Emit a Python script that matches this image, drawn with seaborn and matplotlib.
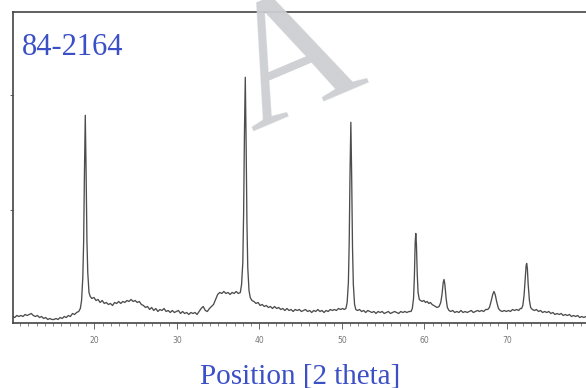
import matplotlib
matplotlib.use("Agg")
import matplotlib.pyplot as plt
from matplotlib.ticker import MultipleLocator, FixedLocator
import seaborn as sns
import pandas as pd

# Diffraction scan: 2-theta angle (degrees) and detector counts (arbitrary units)
two_theta = [
    10.1, 10.35, 10.6, 10.85, 11.1, 11.35, 11.6, 11.85, 12.1, 12.35, 12.6, 12.85,
    13.1, 13.35, 13.6, 13.85, 14.1, 14.35, 14.6, 14.85, 15.1, 15.35, 15.6, 15.85,
    16.1, 16.35, 16.6, 16.85, 17.1, 17.35, 17.6, 17.85, 18.1,
    18.3, 18.45, 18.6, 18.7, 18.8, 18.9, 19.0, 19.1, 19.2, 19.35, 19.5,
    19.7, 19.95, 20.2, 20.45, 20.7, 20.95, 21.2, 21.45, 21.7, 21.95, 22.2, 22.45,
    22.7, 22.95, 23.2, 23.45, 23.7, 23.95, 24.2, 24.45, 24.7, 24.95, 25.2, 25.45,
    25.7, 25.95, 26.2, 26.45, 26.7, 26.95, 27.2, 27.45, 27.7, 27.95, 28.2, 28.45,
    28.7, 28.95, 29.2, 29.45, 29.7, 29.95, 30.2, 30.45, 30.7, 30.95, 31.2, 31.45,
    31.7, 31.95, 32.2, 32.45, 32.7, 32.95, 33.2, 33.45, 33.7, 33.95, 34.2, 34.45,
    34.7, 34.95, 35.2, 35.45, 35.7, 35.95, 36.2, 36.45, 36.7, 36.95, 37.2, 37.45,
    37.7, 37.85, 38.0, 38.1, 38.2, 38.3, 38.4, 38.5, 38.6, 38.75, 38.9,
    39.1, 39.35, 39.6, 39.85, 40.1, 40.35, 40.6, 40.85, 41.1, 41.35, 41.6, 41.85,
    42.1, 42.35, 42.6, 42.85, 43.1, 43.35, 43.6, 43.85, 44.1, 44.35, 44.6, 44.85,
    45.1, 45.35, 45.6, 45.85, 46.1, 46.35, 46.6, 46.85, 47.1, 47.35, 47.6, 47.85,
    48.1, 48.35, 48.6, 48.85, 49.1, 49.35, 49.6, 49.85, 50.1, 50.3,
    50.5, 50.65, 50.8, 50.9, 51.0, 51.1, 51.2, 51.3, 51.4, 51.55, 51.7,
    51.9, 52.15, 52.4, 52.65, 52.9, 53.15, 53.4, 53.65, 53.9, 54.15, 54.4, 54.65,
    54.9, 55.15, 55.4, 55.65, 55.9, 56.15, 56.4, 56.65, 56.9, 57.15, 57.4, 57.65,
    57.9, 58.15,
    58.4, 58.55, 58.7, 58.8, 58.9, 58.97, 59.05, 59.15, 59.25, 59.4, 59.55,
    59.75, 59.95, 60.15, 60.35, 60.55, 60.75, 60.95, 61.15, 61.35, 61.55,
    61.8, 62.0, 62.15, 62.3, 62.4, 62.5, 62.65, 62.8, 63.0,
    63.2, 63.45, 63.7, 63.95, 64.2, 64.45, 64.7, 64.95, 65.2, 65.45, 65.7, 65.95,
    66.2, 66.45, 66.7, 66.95, 67.2, 67.45,
    67.7, 67.9, 68.1, 68.3, 68.45, 68.6, 68.8, 69.0, 69.2,
    69.45, 69.7, 69.95, 70.2, 70.45, 70.7, 70.95, 71.2, 71.45, 71.65,
    71.8, 71.95, 72.1, 72.25, 72.35, 72.42, 72.5, 72.6, 72.75, 72.9, 73.1,
    73.35, 73.6, 73.85, 74.1, 74.35, 74.6, 74.85, 75.1, 75.35, 75.6, 75.85,
    76.1, 76.35, 76.6, 76.85, 77.1, 77.35, 77.6, 77.85, 78.1, 78.35, 78.6, 78.85,
    79.1, 79.35, 79.6, 79.85,
]
counts = [
    6, 5, 7, 6, 7, 6, 8, 7, 8, 9, 7, 6,
    7, 5, 6, 4, 5, 3, 4, 3, 3, 4, 3, 5,
    4, 6, 5, 7, 6, 9, 8, 10, 11,
    14, 22, 45, 80, 150, 207, 150, 82, 50, 30, 26,
    24, 25, 22, 23, 20, 22, 19, 20, 18, 19, 17, 20,
    19, 21, 19, 21, 20, 22, 21, 23, 21, 22, 20, 21,
    18, 17, 15, 16, 13, 15, 12, 14, 11, 13, 12, 14,
    11, 12, 10, 12, 10, 11, 12, 9, 11, 9, 10, 8,
    10, 9, 10, 8, 11, 14, 16, 12, 11, 14, 16, 18,
    23, 28, 30, 29, 31, 29, 30, 28, 30, 29, 31, 29,
    30, 38, 60, 110, 190, 245, 180, 100, 55, 32, 25,
    22, 21, 19, 20, 17, 18, 16, 17, 15, 16, 14, 16,
    14, 15, 13, 14, 12, 14, 12, 13, 11, 13, 12, 13,
    11, 12, 13, 11, 12, 10, 12, 11, 13, 11, 12, 10,
    12, 11, 13, 12, 13, 12, 14, 13, 14, 13,
    14, 20, 40, 80, 150, 200, 145, 75, 38, 18, 13,
    12, 13, 11, 12, 10, 12, 11, 10, 11, 9, 11, 10,
    11, 9, 10, 11, 9, 10, 11, 10, 9, 11, 10, 11,
    10, 11,
    11, 14, 24, 45, 80, 89, 78, 48, 30, 23, 22,
    21, 22, 20, 21, 19, 20, 18, 17, 16, 15,
    16, 20, 28, 40, 43, 38, 24, 15, 12,
    11, 12, 10, 11, 10, 12, 10, 11, 10, 11, 12, 10,
    11, 12, 11, 12, 11, 13,
    13, 15, 21, 28, 31, 28, 20, 14, 12,
    11, 12, 11, 12, 11, 13, 12, 13, 12, 14,
    14, 17, 27, 45, 57, 59, 54, 38, 22, 15, 13,
    12, 13, 11, 12, 10, 11, 10, 11, 9, 10, 8,
    9, 8, 9, 7, 8, 7, 8, 6, 7, 6, 7, 5,
    6, 5, 6, 5,
]

major_ticks = [20, 30, 40, 50, 60, 70]
y_ticks = [112, 227]
card_label = "84-2164"
x_label = "Position [2 theta]"
stamp = "A"

blue = "#3b4fc6"
trace = "#4d4d4d"

sns.set_style("ticks")
plt.rcParams["font.family"] = ["Liberation Serif", "DejaVu Sans"]

W, H = 586, 388
fig = plt.figure(figsize=(W / 100, H / 100), dpi=100)
ax = fig.add_axes([12.7 / W, 1 - 322.5 / H, (W - 12.7) / W, (322.5 - 11.7) / H])

scan = pd.DataFrame({"two_theta": two_theta, "counts": counts})
sns.lineplot(data=scan, x="two_theta", y="counts", ax=ax, color=trace,
             linewidth=0.95, estimator=None, sort=False)

ax.set_xlim(10.1, 79.61)
ax.set_ylim(0, 310.5)
ax.set_xlabel("")
ax.set_ylabel("")

for side in ("left", "top", "bottom"):
    ax.spines[side].set_color("#444444")
    ax.spines[side].set_linewidth(1.2)
ax.spines["right"].set_visible(False)

ax.xaxis.set_major_locator(FixedLocator(major_ticks))
ax.xaxis.set_minor_locator(MultipleLocator(1))
ax.set_xticklabels([str(t) for t in major_ticks])
ax.tick_params(axis="x", which="major", direction="out", length=4, width=0.7,
               color="#666666", labelsize=5.5, labelcolor="#777777", pad=6)
ax.tick_params(axis="x", which="minor", direction="out", length=2.5, width=0.6,
               color="#777777")
for lab in ax.get_xticklabels():
    lab.set_family(["DejaVu Sans"])
ax.yaxis.set_major_locator(FixedLocator(y_ticks))
ax.set_yticklabels([])
ax.tick_params(axis="y", which="major", direction="out", length=2.5, width=0.7,
               color="#666666")

fig.text(22 / W, 1 - 55 / H, card_label, color=blue, fontsize=22,
         ha="left", va="baseline")
fig.text(300 / W, 1 - 383 / H, x_label, color=blue, fontsize=21,
         ha="center", va="baseline")

# faint tilted stamp letter over the upper middle, anchored at its left foot
fig.text(251 / W, 1 - 131 / H, stamp, color="#cdced2", fontsize=128,
         rotation=23, rotation_mode="anchor", ha="left", va="baseline",
         alpha=0.95, zorder=10)

fig.savefig("out.png", dpi=100)
